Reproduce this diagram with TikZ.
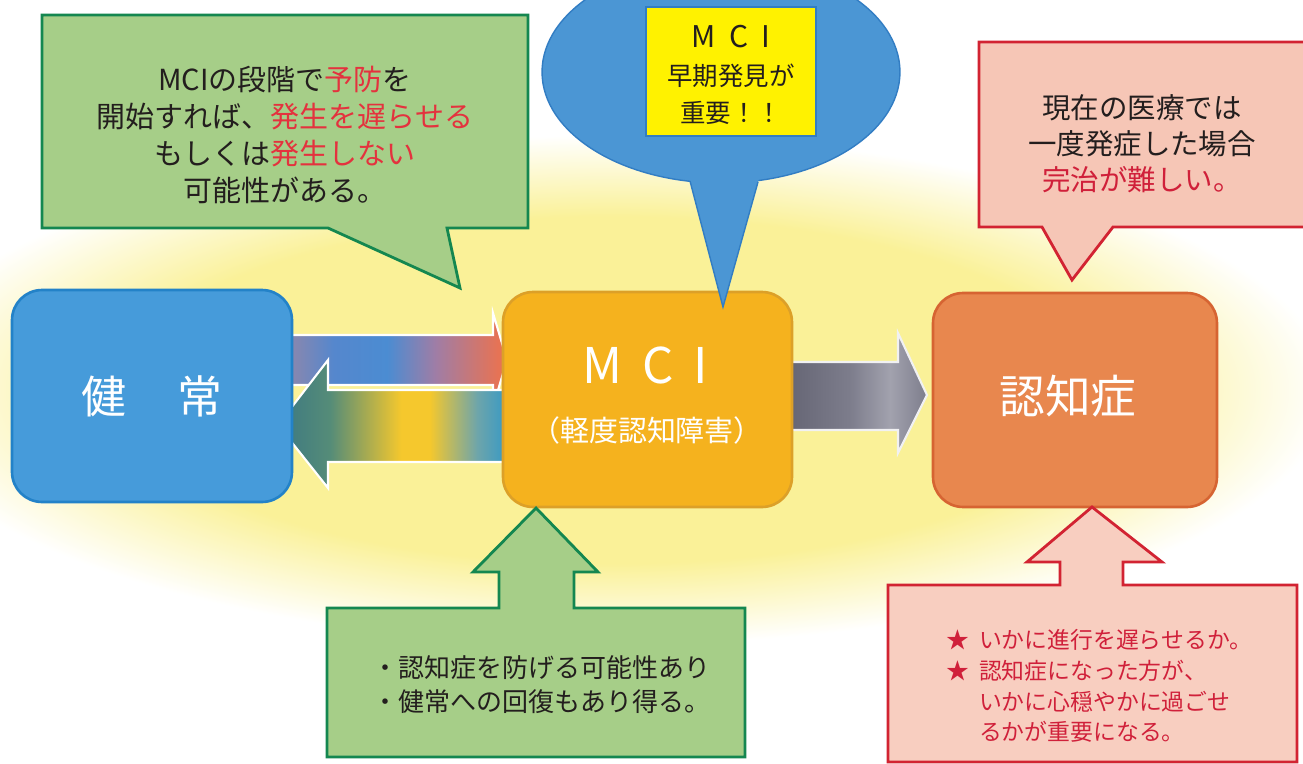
\documentclass[tikz,border=0pt]{standalone}
\usepackage{fontspec}
\setmainfont{Noto Sans CJK JP}
\usetikzlibrary{calc}
\definecolor{glowy}{RGB}{250,241,152}
\definecolor{gfill}{RGB}{166,206,136}
\definecolor{gline}{RGB}{20,135,80}
\definecolor{bub}{RGB}{75,150,212}
\definecolor{bubline}{RGB}{50,125,195}
\definecolor{yel}{RGB}{255,242,0}
\definecolor{pfill}{RGB}{246,198,182}
\definecolor{pfilltwo}{RGB}{248,206,192}
\definecolor{pline}{RGB}{210,35,50}
\definecolor{bbox}{RGB}{70,155,218}
\definecolor{bboxline}{RGB}{35,130,200}
\definecolor{mbox}{RGB}{245,178,30}
\definecolor{mboxline}{RGB}{220,160,40}
\definecolor{nbox}{RGB}{232,135,78}
\definecolor{nboxline}{RGB}{214,100,50}
\definecolor{txtc}{RGB}{35,30,30}
\definecolor{hlred}{RGB}{228,50,62}
\definecolor{pred}{RGB}{208,32,58}
\definecolor{uaA}{RGB}{145,135,170}
\definecolor{uaB}{RGB}{85,135,205}
\definecolor{uaC}{RGB}{75,140,210}
\definecolor{uaD}{RGB}{160,125,165}
\definecolor{uaE}{RGB}{230,115,85}
\definecolor{laA}{RGB}{60,120,130}
\definecolor{laB}{RGB}{85,140,120}
\definecolor{laC}{RGB}{245,200,45}
\definecolor{laD}{RGB}{110,165,170}
\definecolor{laE}{RGB}{40,150,205}
\definecolor{gaA}{RGB}{100,100,115}
\definecolor{gaB}{RGB}{125,125,140}
\definecolor{gaC}{RGB}{162,162,174}
\definecolor{gaD}{RGB}{125,125,140}
\pgfdeclareradialshading{glowshade}{\pgfpoint{0bp}{0bp}}{color(0bp)=(glowy); color(17bp)=(glowy); color(25bp)=(white); color(50bp)=(white)}
\pgfdeclarehorizontalshading{upshade}{100bp}{color(0bp)=(uaA); color(25bp)=(uaA); color(36bp)=(uaB); color(48bp)=(uaC); color(59bp)=(uaD); color(73bp)=(uaE); color(100bp)=(uaE)}
\pgfdeclarehorizontalshading{lowshade}{100bp}{color(0bp)=(laA); color(25bp)=(laA); color(36bp)=(laB); color(51bp)=(laC); color(57bp)=(laC); color(67bp)=(laD); color(75bp)=(laE); color(100bp)=(laE)}
\pgfdeclarehorizontalshading{grayshade}{100bp}{color(0bp)=(gaA); color(25bp)=(gaA); color(48bp)=(gaB); color(62bp)=(gaC); color(75bp)=(gaD); color(100bp)=(gaD)}
\newcommand\redtxt[1]{\textcolor{hlred}{#1}}
\tikzset{
  callg/.style={fill=gfill, draw=gline, line width=1.6pt, line join=miter},
  callp/.style={fill=pfill, draw=pline, line width=1.6pt, line join=miter},
  callptwo/.style={fill=pfilltwo, draw=pline, line width=1.6pt, line join=miter},
  bigbox/.style={rounded corners=0.6cm, line width=1.5pt},
  fatarrow/.style={draw=white, line width=1.2pt, line join=miter},
  txt/.style={text=txtc}
}
\begin{document}
\begin{tikzpicture}[x=0.02cm,y=-0.02cm, every node/.style={inner sep=0pt, outer sep=0pt}]
\useasboundingbox (0,0) rectangle (1303,764);
\clip (0,0) rectangle (1303,764);
\fill[white] (0,0) rectangle (1303,764);
\shade[shading=glowshade] (610,390) ellipse [x radius=14.4cm, y radius=5.1cm];

% fat arrows
\path[fatarrow, shading=upshade] (285,335) -- (493,335) -- (493,313) -- (507,360) -- (493,407) -- (493,385) -- (285,385) -- cycle;
\path[fatarrow, shading=lowshade] (515,390) -- (328,390) -- (328,360) -- (278,425) -- (328,488) -- (328,462) -- (515,462) -- cycle;
\path[fatarrow, shading=grayshade, draw=white!85!gaC] (785,362) -- (898,362) -- (898,333) -- (927,395) -- (898,453) -- (898,430) -- (785,430) -- cycle;

% main boxes
\node[bigbox, fill=bbox, draw=bboxline, minimum width=5.6cm, minimum height=4.24cm, text=white, font=\fontsize{25.6pt}{30pt}\selectfont] (kenjo) at (152,396) {健\hspace{1.15em}常};
\node[bigbox, fill=mbox, draw=mboxline, minimum width=5.78cm, minimum height=4.3cm] (mci) at (647.5,399.5) {};
\node[text=white, font=\fontsize{28pt}{30pt}\selectfont] (mcititle) at (645,365) {M\hspace{.4em}C\hspace{.4em}I};
\node[text=white, font=\fontsize{16.5pt}{18pt}\selectfont] (mcisub) at (647,430) {（軽度認知障害）};
\node[bigbox, fill=nbox, draw=nboxline, minimum width=5.68cm, minimum height=4.28cm] (nin) at (1075,400) {};
\node[text=white, font=\fontsize{26pt}{30pt}\selectfont] (nintext) at (1068,396) {認知症};

% top-left green callout
\draw[callg] (42,15) -- (528,15) -- (528,228) -- (447,228) -- (460,288) -- (328,228) -- (42,228) -- cycle;
\node[txt, align=center, font=\fontsize{16.5pt}{20.9pt}\selectfont] (gtext) at (285,135) {MCIの段階で\redtxt{予防}を\\開始すれば、\redtxt{発生を遅らせる}\\もしくは\redtxt{発生しない}\\可能性がある。};

% blue bubble
\fill[bub, draw=bubline, line width=0.8pt] (721,72) ellipse [x radius=3.58cm, y radius=2.22cm];
\fill[bub] (686.6,168) -- (723,307) -- (761.9,168) -- cycle;
\draw[bubline, line width=0.8pt] (690,181) -- (723,307) -- (758,182);
\node[draw=bubline, fill=yel, minimum width=3.4cm, minimum height=2.58cm, line width=0.6pt] (yrect) at (731,71.5) {};
\node[txt, align=center, font=\fontsize{14.5pt}{21.3pt}\selectfont] (ytext) at (731,75) {{\fontsize{17pt}{21.3pt}\selectfont M\hspace{.45em}C\hspace{.45em}I}\\早期発見が\\重要！！};

% top-right pink callout
\draw[callp] (979,42) -- (1320,42) -- (1320,227) -- (1113,227) -- (1072,280) -- (1042,227) -- (979,227) -- cycle;
\node[txt, align=center, font=\fontsize{16.2pt}{20.5pt}\selectfont] (ptext) at (1142,144) {現在の医療では\\一度発症した場合\\\textcolor{pred}{完治が難しい。}};

% bottom green arrow-box
\draw[callg] (327,608) -- (499,608) -- (499,572) -- (473,572) -- (536,508) -- (598,572) -- (574,572) -- (574,608) -- (745,608) -- (745,757) -- (327,757) -- cycle;
\node[txt, align=left, anchor=west, font=\fontsize{14.8pt}{19.4pt}\selectfont] (gbtext) at (372,685) {・認知症を防げる可能性あり\\・健常への回復もあり得る。};

% bottom pink arrow-box
\draw[callptwo] (888,585) -- (1060,585) -- (1060,562) -- (1027,562) -- (1092,507) -- (1162,562) -- (1123,562) -- (1123,585) -- (1297,585) -- (1297,762) -- (888,762) -- cycle;
\node[text=pred, align=left, anchor=west, font=\fontsize{13pt}{17.5pt}\selectfont] (pbtext) at (946,686) {\makebox[1.45em][l]{★}いかに進行を遅らせるか。\\\makebox[1.45em][l]{★}認知症になった方が、\\\hspace*{1.45em}いかに心穏やかに過ごせ\\\hspace*{1.45em}るかが重要になる。};
\end{tikzpicture}
\end{document}
